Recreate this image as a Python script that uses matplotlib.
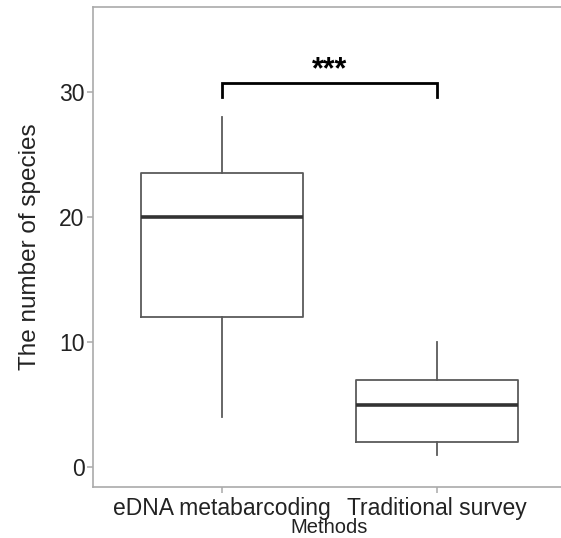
import matplotlib
matplotlib.use("Agg")
import matplotlib.pyplot as plt

plt.rcParams['font.family'] = ['Liberation Sans', 'DejaVu Sans']

categories = ["eDNA metabarcoding", "Traditional survey"]
whislo = [4, 1]
q1 = [12, 2]
med = [20, 5]
q3 = [23.5, 7]
whishi = [28, 10]
yticks = [0, 10, 20, 30]
sig_label = "***"
sig_y = 30.75
sig_tick = 29.6

fig = plt.figure(figsize=(5.61, 5.38), dpi=100)
ax = fig.add_axes([93/561, 51/538, (566-93)/561, (487-7)/538])

stats = []
for i, c in enumerate(categories):
    stats.append(dict(label=c, whislo=whislo[i], q1=q1[i], med=med[i], q3=q3[i], whishi=whishi[i], fliers=[]))

ax.bxp(stats, positions=[1, 2], widths=0.75, showfliers=False, showcaps=False,
       boxprops=dict(color="#5a5a5a", linewidth=1.3),
       whiskerprops=dict(color="#5a5a5a", linewidth=1.3),
       medianprops=dict(color="#333333", linewidth=2.6))

ax.set_xlim(0.4, 2.6)
ax.set_ylim(-1.6, 36.8)
ax.set_yticks(yticks)
ax.set_xticks([1, 2])
ax.set_xticklabels(categories)

# significance bracket
ax.plot([1, 1, 2, 2], [sig_tick, sig_y, sig_y, sig_tick], color="black", linewidth=2, solid_joinstyle="miter")
ax.text(1.5, 31.1, sig_label, ha="center", va="baseline", fontsize=22, fontweight="bold", color="black")

for s in ["left", "top", "bottom"]:
    ax.spines[s].set_color("#aaaaaa")
    ax.spines[s].set_linewidth(1.2)
ax.spines["right"].set_visible(False)
ax.tick_params(axis="both", colors="#aaaaaa", length=4, width=1.1, labelcolor="#222222", labelsize=16.5)
ax.tick_params(axis="y", pad=2)
ax.tick_params(axis="x", pad=3.5)

ax.set_ylabel("The number of species", fontsize=17.5, color="#222222", labelpad=13)
ax.set_xlabel("Methods", fontsize=14.5, color="#222222", labelpad=-2)

fig.savefig("out.png", dpi=100)
